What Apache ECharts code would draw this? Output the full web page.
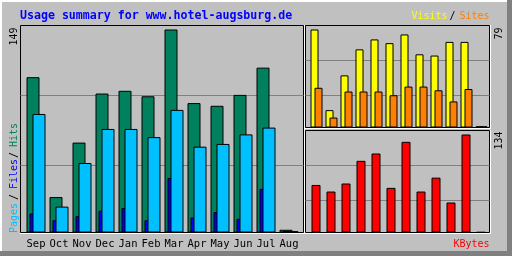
<!DOCTYPE html>
<html><head><meta charset="utf-8">
<script src="https://cdn.jsdelivr.net/npm/echarts@6/dist/echarts.min.js"></script>
<style>html,body{margin:0;padding:0;background:#c0c0c0}#c{width:512px;height:256px}</style>
</head><body><div id="c"></div>
<script>
const months = ['Sep','Oct','Nov','Dec','Jan','Feb','Mar','Apr','May','Jun','Jul','Aug'];
const hits   = [114,26,66,102,104,100,149,95,93,101,121,2];
const files  = [14,9,12,16,18,9,40,11,15,10,32,1];
const pages  = [87,19,51,76,76,70,90,63,65,72,77,1];
const visits = [79,14,42,63,71,68,75,59,58,69,69,1];
const sites  = [32,8,29,29,29,26,33,33,30,21,31,1];
const kbytes = [65,56,67,98,108,61,124,56,75,41,134,0.5];
const hitsMax = 149, visitsMax = 79, kbytesMax = 134;
const title = 'Usage summary for www.hotel-augsburg.de';

const MONO = '"DejaVu Sans Mono", monospace';
const chart = echarts.init(document.getElementById('c'), null, {renderer:'canvas', devicePixelRatio:1});

function frameGrid(left, top, width, height){
  return {left, top, width, height, show:true, backgroundColor:'transparent',
          borderColor:'#000', borderWidth:1, outerBoundsMode:'none', containLabel:false};
}
function barGrid(left, top, width, height){
  return {left, top, width, height, show:false, outerBoundsMode:'none', containLabel:false};
}
const grids = [
  frameGrid(20.5, 25.5, 283, 207),
  frameGrid(305.5, 25.5, 184, 102),
  frameGrid(305.5, 130.5, 184, 102),
  barGrid(21.5, 29.5, 276, 203),
  barGrid(24.5, 29.5, 276, 203),
  barGrid(27.5, 29.5, 276, 203),
  barGrid(307, 29.5, 180, 98),
  barGrid(311, 29.5, 180, 98),
  barGrid(308.5, 134.5, 180, 98)
];
const xAxes = [], yAxes = [];
const frameH = [207, 102, 102], frameStep = [70, 35, 35];
for (let i = 0; i < 3; i++) {
  xAxes.push({type:'value', gridIndex:i, show:false});
  yAxes.push({type:'value', gridIndex:i, inverse:true, min:0, max:frameH[i], interval:frameStep[i],
    axisLine:{show:false}, axisTick:{show:false}, axisLabel:{show:false},
    splitLine:{show:true, showMinLine:false, showMaxLine:false, lineStyle:{color:'#808080', width:1}}});
}
const maxes = [hitsMax, hitsMax, hitsMax, visitsMax, visitsMax, kbytesMax];
for (let i = 3; i < 9; i++) {
  const showLab = (i === 4);
  xAxes.push({type:'category', gridIndex:i, data:months, show:showLab,
    axisLine:{show:false}, axisTick:{show:false}, splitLine:{show:false},
    axisLabel:{show:showLab, interval:0, color:'#000', fontFamily:MONO, fontSize:10.5, margin:6}});
  yAxes.push({type:'value', gridIndex:i, min:0, max:maxes[i-3], show:false});
}
function bar(idx, data, color, w){
  return {type:'bar', xAxisIndex:idx, yAxisIndex:idx, data, barWidth:w, silent:true,
    itemStyle:{color, borderColor:'#000', borderWidth:1}};
}
const series = [
  bar(3, hits, '#00805c', 13),
  bar(4, files, '#0000ff', 13),
  bar(5, pages, '#00c0ff', 13),
  bar(6, visits, '#ffff00', 8),
  bar(7, sites, '#ff8000', 8),
  bar(8, kbytes, '#ff0000', 9)
];
function txt(x, y, text, fill, opts){
  return Object.assign({type:'text', x, y, silent:true,
    style:{text, fill, font:'10px ' + MONO, textVerticalAlign:'top', textAlign:'left'}}, opts||{});
}
function up(x, y, text, fill){ return txt(x, y, text, fill, {rotation:Math.PI/2}); }
function line(x1,y1,x2,y2,c){ return {type:'line', silent:true, shape:{x1,y1,x2,y2}, style:{stroke:c, lineWidth:1}}; }
const graphic = [
  {type:'rect', silent:true, shape:{x:0,y:0,width:512,height:2}, style:{fill:'#fff'}},
  {type:'rect', silent:true, shape:{x:0,y:0,width:2,height:256}, style:{fill:'#fff'}},
  {type:'rect', silent:true, shape:{x:507,y:0,width:5,height:256}, style:{fill:'#808080'}},
  {type:'rect', silent:true, shape:{x:0,y:251,width:512,height:5}, style:{fill:'#808080'}},
  line(304.5,25,304.5,234,'#fff'), line(20,233.5,305,233.5,'#fff'),
  line(490.5,25,490.5,129,'#fff'), line(305,128.5,491,128.5,'#fff'),
  line(490.5,130,490.5,234,'#fff'), line(305,233.5,491,233.5,'#fff'),
  txt(20, 10, title, '#0000ff', {style:{text:title, fill:'#0000ff', font:'bold 11.6px ' + MONO, textVerticalAlign:'top'}}),
  txt(411.5, 11.5, 'Visits', '#ffff00'),
  txt(449.5, 11.5, '/', '#000'),
  txt(459.5, 11.5, 'Sites', '#ff8000'),
  txt(453.5, 239, 'KBytes', '#ff0000'),
  up(9, 233, 'Pages', '#00c0ff'),
  up(9, 200, '/', '#000'),
  up(9, 189, 'Files', '#0000ff'),
  up(9, 158, '/', '#000'),
  up(9, 147, 'Hits', '#00805c'),
  up(9, 45.5, String(hitsMax), '#000'),
  up(494, 39.5, String(visitsMax), '#000'),
  up(494, 149.5, String(kbytesMax), '#000')
];
chart.setOption({animation:false, backgroundColor:'#c0c0c0', grid:grids, xAxis:xAxes, yAxis:yAxes, series, graphic});
</script></body></html>
